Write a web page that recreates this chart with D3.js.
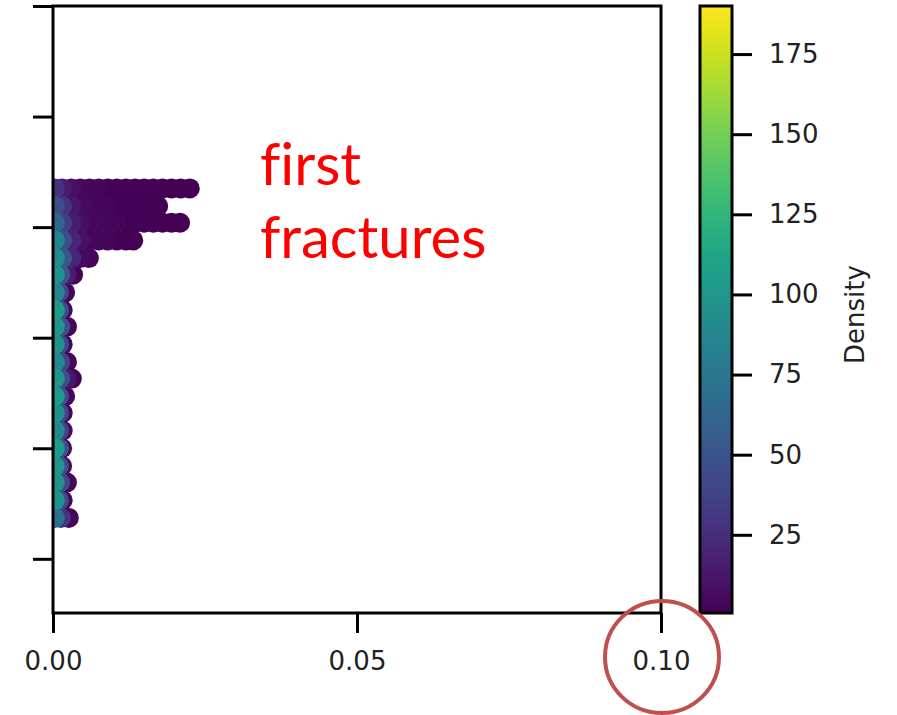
<!DOCTYPE html>
<html>
<head>
<meta charset="utf-8">
<script src="https://cdn.jsdelivr.net/npm/d3@7"></script>
<style>
    body { margin: 0; background: #fff; }
    .axis-label { font-family: "DejaVu Sans", sans-serif; font-size: 26px; fill: #222; }
    .note-text { font-family: Lato, sans-serif; font-size: 58px; fill: #ff0000; font-variant-ligatures: none; }
</style>
</head>
<body>
<div id="chart"></div>
<script>
// Each row of points sits at one depth value (top row first)
const rowDepth = [335, 319, 304, 288, 272, 257, 241, 225, 210, 194, 178, 163, 147, 132, 116, 100, 84, 69, 53, 37];

// x position of every point in each row
const rowX = [
    [0.0003, 0.0015, 0.003, 0.0045, 0.006, 0.0075, 0.009, 0.0105, 0.012, 0.0135, 0.015, 0.0165, 0.018, 0.0195, 0.021, 0.0225],
    [0.0003, 0.0015, 0.003, 0.0045, 0.006, 0.0075, 0.009, 0.0105, 0.012, 0.0135, 0.015, 0.016, 0.0173],
    [0.0003, 0.0015, 0.003, 0.0045, 0.006, 0.0075, 0.009, 0.0105, 0.012, 0.0135, 0.015, 0.0165, 0.018, 0.0195, 0.0209],
    [0.0003, 0.0015, 0.003, 0.0045, 0.006, 0.0075, 0.009, 0.0105, 0.012, 0.0132],
    [0.0003, 0.0015, 0.003, 0.0045, 0.0059],
    [0.0003, 0.0012, 0.0022, 0.0033],
    [0.0003, 0.001, 0.0020],
    [0.0003, 0.001, 0.0016],
    [0.0003, 0.0012, 0.0023],
    [0.0003, 0.001, 0.0016],
    [0.0003, 0.0012, 0.0023],
    [0.0003, 0.0012, 0.0022, 0.0031],
    [0.0003, 0.001, 0.0020],
    [0.0003, 0.001, 0.0016],
    [0.0003, 0.001, 0.0016],
    [0.0003, 0.001, 0.0015],
    [0.0003, 0.001, 0.0015],
    [0.0003, 0.0012, 0.0023],
    [0.0003, 0.001, 0.0016],
    [0.0003, 0.0013, 0.0026]
];

// density of every point in each row
const rowDensity = [
    [28, 16, 8, 5, 3, 3, 2, 2, 2, 2, 2, 2, 1, 1, 1, 1],
    [45, 28, 12, 6, 4, 3, 3, 2, 2, 2, 2, 1, 1],
    [62, 36, 16, 8, 5, 4, 3, 3, 2, 2, 2, 2, 1, 1, 1],
    [84, 46, 20, 9, 5, 3, 3, 2, 2, 1],
    [92, 52, 20, 6, 3],
    [96, 50, 15, 3],
    [86, 40, 4],
    [104, 45, 5],
    [100, 45, 4],
    [96, 42, 5],
    [90, 40, 4],
    [100, 46, 12, 3],
    [102, 45, 5],
    [94, 42, 5],
    [90, 40, 6],
    [104, 48, 6],
    [100, 45, 6],
    [96, 42, 4],
    [98, 44, 5],
    [70, 30, 3]
];

const xTicks = [0, 0.05, 0.10];
const yTicks = [0, 100, 200, 300, 400, 500];
const densityTicks = [25, 50, 75, 100, 125, 150, 175];
const densityRange = [0.6, 190];

const width = 897;
const height = 715;
const plot = { left: 53, right: 661, top: 6, bottom: 613 };
const bar = { left: 700, right: 732 };

const svg = d3.select("#chart")
    .append("svg")
    .attr("width", width)
    .attr("height", height);

svg.append("rect")
    .attr("width", width)
    .attr("height", height)
    .attr("fill", "#fff");

// Scales
const x = d3.scaleLinear().domain([0, 0.10]).range([plot.left, plot.right]);
const y = d3.scaleLinear().domain([-49, 500]).range([plot.bottom, plot.top]);
const c = d3.scaleLinear().domain(densityRange).range([plot.bottom, plot.top]);
const color = d3.scaleSequential(d3.interpolateViridis).domain(densityRange);

// Flatten rows into points, low density drawn first
const points = [];
rowDepth.forEach((depth, i) => {
    rowX[i].forEach((xv, j) => {
        points.push({ x: xv, depth: depth, density: rowDensity[i][j] });
    });
});
points.sort((a, b) => a.density - b.density);

svg.append("clipPath")
    .attr("id", "plot-clip")
    .append("rect")
    .attr("x", plot.left)
    .attr("y", plot.top)
    .attr("width", plot.right - plot.left)
    .attr("height", plot.bottom - plot.top);

svg.append("g")
    .attr("clip-path", "url(#plot-clip)")
    .selectAll("circle")
    .data(points)
    .enter()
    .append("circle")
    .attr("cx", d => x(d.x))
    .attr("cy", d => y(d.depth))
    .attr("r", 10)
    .attr("fill", d => color(d.density));

// Axes
const xAxis = svg.append("g")
    .attr("transform", `translate(0, ${plot.bottom})`)
    .call(d3.axisBottom(x)
        .tickValues(xTicks)
        .tickFormat(d3.format(".2f"))
        .tickSize(20)
        .tickSizeOuter(0)
        .tickPadding(19));

const yAxis = svg.append("g")
    .attr("transform", `translate(${plot.left}, 0)`)
    .call(d3.axisLeft(y)
        .tickValues(yTicks)
        .tickFormat("")
        .tickSize(20)
        .tickSizeOuter(0));

[xAxis, yAxis].forEach(g => {
    g.select(".domain").remove();
    g.selectAll(".tick line").attr("stroke", "#000").attr("stroke-width", 3);
    g.selectAll("text").attr("class", "axis-label").attr("fill", null);
});

// Plot frame
svg.append("rect")
    .attr("x", plot.left)
    .attr("y", plot.top)
    .attr("width", plot.right - plot.left)
    .attr("height", plot.bottom - plot.top)
    .attr("fill", "none")
    .attr("stroke", "#000")
    .attr("stroke-width", 3);

// Colorbar
const grad = svg.append("defs")
    .append("linearGradient")
    .attr("id", "viridis")
    .attr("x1", 0).attr("y1", 1)
    .attr("x2", 0).attr("y2", 0);

d3.range(0, 1.001, 0.05).forEach(t => {
    grad.append("stop")
        .attr("offset", `${t * 100}%`)
        .attr("stop-color", d3.interpolateViridis(t));
});

svg.append("rect")
    .attr("x", bar.left)
    .attr("y", plot.top)
    .attr("width", bar.right - bar.left)
    .attr("height", plot.bottom - plot.top)
    .attr("fill", "url(#viridis)")
    .attr("stroke", "#000")
    .attr("stroke-width", 3);

const cAxis = svg.append("g")
    .attr("transform", `translate(${bar.right}, 0)`)
    .call(d3.axisRight(c)
        .tickValues(densityTicks)
        .tickSize(20)
        .tickSizeOuter(0)
        .tickPadding(17));

cAxis.select(".domain").remove();
cAxis.selectAll(".tick line").attr("stroke", "#000").attr("stroke-width", 3);
cAxis.selectAll("text").attr("class", "axis-label").attr("fill", null);

svg.append("text")
    .attr("class", "axis-label")
    .attr("transform", `translate(864, ${(plot.top + plot.bottom) / 2 + 5}) rotate(-90)`)
    .attr("text-anchor", "middle")
    .text("Density");

// Annotation
const note = svg.append("text")
    .attr("class", "note-text")
    .attr("x", 260)
    .attr("y", 185);
note.append("tspan").attr("x", 260).text("first");
note.append("tspan").attr("x", 260).attr("y", 258).text("fractures");

svg.append("ellipse")
    .attr("cx", 662)
    .attr("cy", 657)
    .attr("rx", 57)
    .attr("ry", 56)
    .attr("fill", "none")
    .attr("stroke", "#c0504d")
    .attr("stroke-width", 4);
</script>
</body>
</html>
